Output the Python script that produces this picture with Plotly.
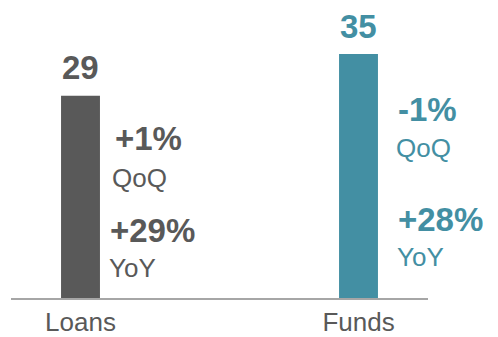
import plotly.graph_objects as go

# Balances by segment
categories = ["Loans", "Funds"]
values = [29, 35]
qoq_labels = ["+1%", "-1%"]
yoy_labels = ["+29%", "+28%"]

colors = ["#595959", "#438FA3"]
axis_line_color = "#A6A6A6"
font_family = "Liberation Sans, Arial, sans-serif"

fig = go.Figure(
    go.Bar(
        x=list(range(len(categories))),
        y=values,
        width=0.14,
        marker=dict(color=colors, line=dict(width=0)),
        hoverinfo="skip",
    )
)

annotations = []
# value labels above each bar
for i, (v, c) in enumerate(zip(values, colors)):
    annotations.append(dict(
        x=i, y=v, xref="x", yref="y", text=str(v), showarrow=False,
        xanchor="center", yanchor="middle", yshift=28,
        font=dict(family=font_family, size=33, color=c, weight="bold"),
    ))

# change labels to the right of each bar (paper y for vertical placement)
side_layout = [
    # (pct y, caption y, pct xshift, caption xshift)
    (0.536, 0.404, 32, 29),
    (0.634, 0.503, 37, 35),
]
yoy_layout = [
    (0.226, 0.102, 27, 26),
    (0.262, 0.139, 37, 36),
]
for i, c in enumerate(colors):
    py, cy, px, cx = side_layout[i]
    annotations.append(dict(
        x=i, y=py, xref="x", yref="paper", text=qoq_labels[i], showarrow=False,
        xanchor="left", yanchor="middle", xshift=px,
        font=dict(family=font_family, size=33, color=c, weight="bold"),
    ))
    annotations.append(dict(
        x=i, y=cy, xref="x", yref="paper", text="QoQ", showarrow=False,
        xanchor="left", yanchor="middle", xshift=cx,
        font=dict(family=font_family, size=26, color=c),
    ))
    py, cy, px, cx = yoy_layout[i]
    annotations.append(dict(
        x=i, y=py, xref="x", yref="paper", text=yoy_labels[i], showarrow=False,
        xanchor="left", yanchor="middle", xshift=px,
        font=dict(family=font_family, size=33, color=c, weight="bold"),
    ))
    annotations.append(dict(
        x=i, y=cy, xref="x", yref="paper", text="YoY", showarrow=False,
        xanchor="left", yanchor="middle", xshift=cx,
        font=dict(family=font_family, size=26, color=c),
    ))

fig.update_layout(
    width=498, height=337,
    margin=dict(l=11, r=70, t=0, b=39, autoexpand=False),
    paper_bgcolor="white", plot_bgcolor="white",
    showlegend=False,
    annotations=annotations,
    xaxis=dict(
        range=[-0.25, 1.25],
        tickmode="array",
        tickvals=list(range(len(categories))),
        ticktext=categories,
        tickfont=dict(family=font_family, size=26, color="#595959"),
        ticklabelstandoff=0,
        automargin=False,
        showline=True, linecolor=axis_line_color, linewidth=1.5,
        showgrid=False, zeroline=False, ticks="",
        fixedrange=True,
    ),
    yaxis=dict(
        range=[0, 42.75],
        visible=False,
        showgrid=False, zeroline=False,
        fixedrange=True,
    ),
)

fig.write_html("out.html", config={"displayModeBar": False})
